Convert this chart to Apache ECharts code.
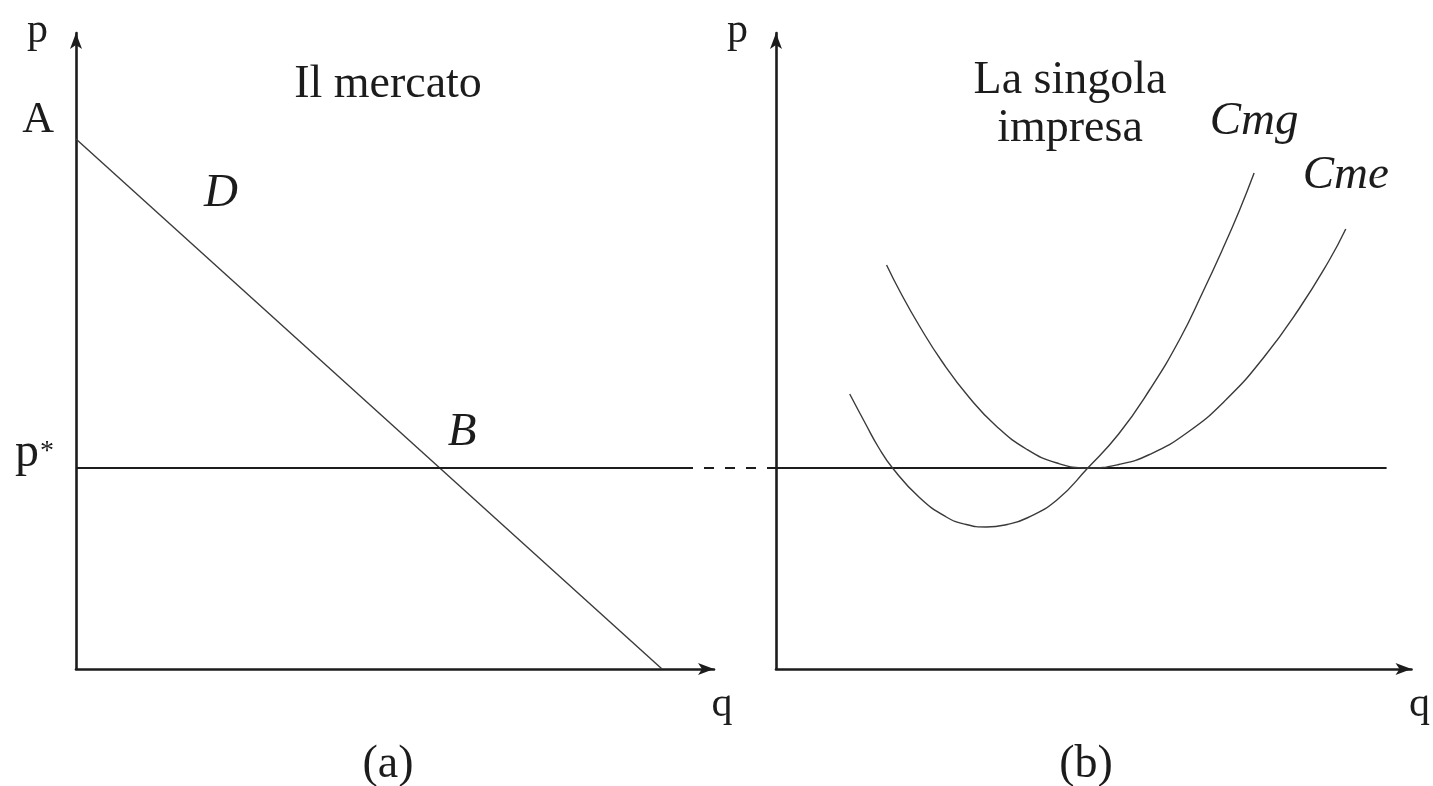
<!DOCTYPE html>
<html>
<head>
<meta charset="utf-8">
<script src="https://cdn.jsdelivr.net/npm/echarts@6/dist/echarts.min.js"></script>
<style>
  html, body { margin: 0; padding: 0; background: #ffffff; }
  #chart { width: 1433px; height: 786px; }
</style>
</head>
<body>
<div id="chart"></div>
<script>
// ---- Panel (a): the market ----
const demandQ = [0, 11.72];          // quantity at the two ends of D
const demandP = [10.6, 0];           // price at the two ends of D (A on the p axis)
const priceA = 10.6;
const priceStar = 4.02;              // equilibrium price p*
const marketLineQ = [0, 12.34];      // solid p* line in panel (a)
const bridgeQ = [12.56, 14.0];       // dashed link between the panels (panel-a units)

// ---- Panel (b): the single firm ----
const firmLineQ = [0, 12.26];        // p* line in panel (b)
const cmgQ = [1.48, 1.80, 2.06, 2.34, 2.88, 3.42, 3.82, 4.22, 4.64, 5.04, 5.64, 6.26, 6.88, 7.50, 8.12, 8.58, 8.96, 9.30, 9.60];
const cmgP = [5.50, 4.90, 4.43, 4.02, 3.43, 3.04, 2.89, 2.84, 2.89, 3.02, 3.38, 4.02, 4.70, 5.58, 6.62, 7.56, 8.38, 9.16, 9.92];
const cmeQ = [2.22, 2.50, 2.88, 3.34, 3.88, 4.42, 5.04, 5.64, 6.26, 6.88, 7.50, 8.26, 9.04, 9.80, 10.50, 11.10, 11.44];
const cmeP = [8.08, 7.53, 6.86, 6.14, 5.43, 4.86, 4.39, 4.12, 4.02, 4.09, 4.29, 4.73, 5.39, 6.24, 7.20, 8.16, 8.80];

// ---- Text annotations placed in data coordinates ----
const marketLabels = [['D', 2.9, 9.5], ['B', 7.72, 4.72]];
const firmLabels = [['Cmg', 9.6, 10.95], ['Cme', 11.44, 9.86]];

const SERIF = 'Liberation Serif';
const INK = '#1c1c1c';
const CURVE = '#3a3a3a';

const zip = (xs, ys) => xs.map((x, i) => [x, ys[i]]);

function makeAxisLine() {
  return {
    show: true,
    onZero: false,
    symbol: ['none', 'arrow'],
    symbolSize: [9, 16],
    lineStyle: { color: INK, width: 2.6 }
  };
}

function xAxisFor(gridIndex) {
  return {
    type: 'value', gridIndex, min: 0, max: 12.76,
    axisLine: makeAxisLine(),
    axisTick: { show: false }, axisLabel: { show: false }, splitLine: { show: false },
    name: 'q', nameLocation: 'end', nameGap: 8,
    nameTextStyle: { fontFamily: SERIF, fontSize: 42, color: INK, align: 'center', verticalAlign: 'top', padding: [15, 0, 0, 0] }
  };
}

function yAxisFor(gridIndex, withTicksText) {
  const axis = {
    type: 'value', gridIndex, min: 0, max: 12.72,
    axisLine: makeAxisLine(),
    axisTick: { show: false }, splitLine: { show: false },
    axisLabel: { show: false },
    name: 'p', nameLocation: 'end', nameGap: 2,
    nameTextStyle: { fontFamily: SERIF, fontSize: 42, color: INK, align: 'right', verticalAlign: 'middle', padding: [0, 28, 0, 0] }
  };
  if (withTicksText) {
    axis.axisLabel = {
      show: true,
      customValues: [priceStar, priceA],
      margin: 22,
      verticalAlign: 'bottom',
      formatter: v => (v === priceA ? '{a|A}' : '{p|p}{s|*}'),
      rich: {
        a: { fontFamily: SERIF, fontSize: 44, color: INK, lineHeight: 38 },
        p: { fontFamily: SERIF, fontSize: 48, color: INK, lineHeight: 30 },
        s: { fontFamily: SERIF, fontSize: 28, color: INK, lineHeight: 30, verticalAlign: 'top', padding: [0, 0, 6, 1] }
      }
    };
  }
  return axis;
}

// hidden axes spanning both panels with panel (a)'s scale, for the dashed link
const spanX = { type: 'value', gridIndex: 2, min: 0, max: 26.76, show: false };
const spanY = { type: 'value', gridIndex: 2, min: 0, max: 12.72, show: false };

function labelSeries(xAxisIndex, items) {
  return {
    type: 'scatter', xAxisIndex, yAxisIndex: xAxisIndex, silent: true,
    symbolSize: 0, itemStyle: { color: INK, opacity: 1 },
    data: items.map(([t, x, y]) => ({ name: t, value: [x, y] })),
    label: {
      show: true, position: [0, 0], align: 'center', verticalAlign: 'middle', formatter: '{b}',
      fontFamily: SERIF, fontStyle: 'italic', fontSize: 47, color: INK, opacity: 1
    },
    z: 5
  };
}

function lineSeries(xAxisIndex, data, extra) {
  return Object.assign({
    type: 'line', xAxisIndex, yAxisIndex: xAxisIndex, data,
    showSymbol: false, silent: true,
    lineStyle: { color: CURVE, width: 1.4 }
  }, extra || {});
}

const titleStyle = { fontFamily: SERIF, fontSize: 46, fontWeight: 'normal', color: INK, lineHeight: 48 };

const option = {
  backgroundColor: '#ffffff',
  animation: false,
  title: [
    { text: 'Il mercato', left: 388, top: 61, textAlign: 'center', padding: 0, textStyle: titleStyle },
    { text: 'La singola\nimpresa', left: 1070, top: 57, textAlign: 'center', padding: 0, textStyle: titleStyle },
    { text: '(a)', left: 388, top: 741, textAlign: 'center', padding: 0, textStyle: titleStyle },
    { text: '(b)', left: 1086, top: 741, textAlign: 'center', padding: 0, textStyle: titleStyle }
  ],
  grid: [
    { left: 76, top: 33, width: 638, height: 636 },
    { left: 776, top: 33, width: 638, height: 636 },
    { left: 76, top: 33, width: 1338, height: 636 }
  ],
  xAxis: [xAxisFor(0), xAxisFor(1), spanX],
  yAxis: [yAxisFor(0, true), yAxisFor(1, false), spanY],
  series: [
    // demand curve D
    lineSeries(0, zip(demandQ, demandP)),
    // equilibrium price p* in the market
    lineSeries(0, marketLineQ.map(q => [q, priceStar]), { lineStyle: { color: INK, width: 1.8 } }),
    // dashed carry-over of p* into the firm's diagram
    lineSeries(2, bridgeQ.map(q => [q, priceStar]), {
      lineStyle: { color: INK, width: 1.8, type: [10, 11] }
    }),
    // p* faced by the single firm
    lineSeries(1, firmLineQ.map(q => [q, priceStar]), { lineStyle: { color: INK, width: 1.8 } }),
    // marginal cost
    lineSeries(1, zip(cmgQ, cmgP), { smooth: 0.5 }),
    // average cost
    lineSeries(1, zip(cmeQ, cmeP), { smooth: 0.5 }),
    labelSeries(0, marketLabels),
    labelSeries(1, firmLabels)
  ]
};

const chart = echarts.init(document.getElementById('chart'), null, { renderer: 'canvas' });
chart.setOption(option);
</script>
</body>
</html>
